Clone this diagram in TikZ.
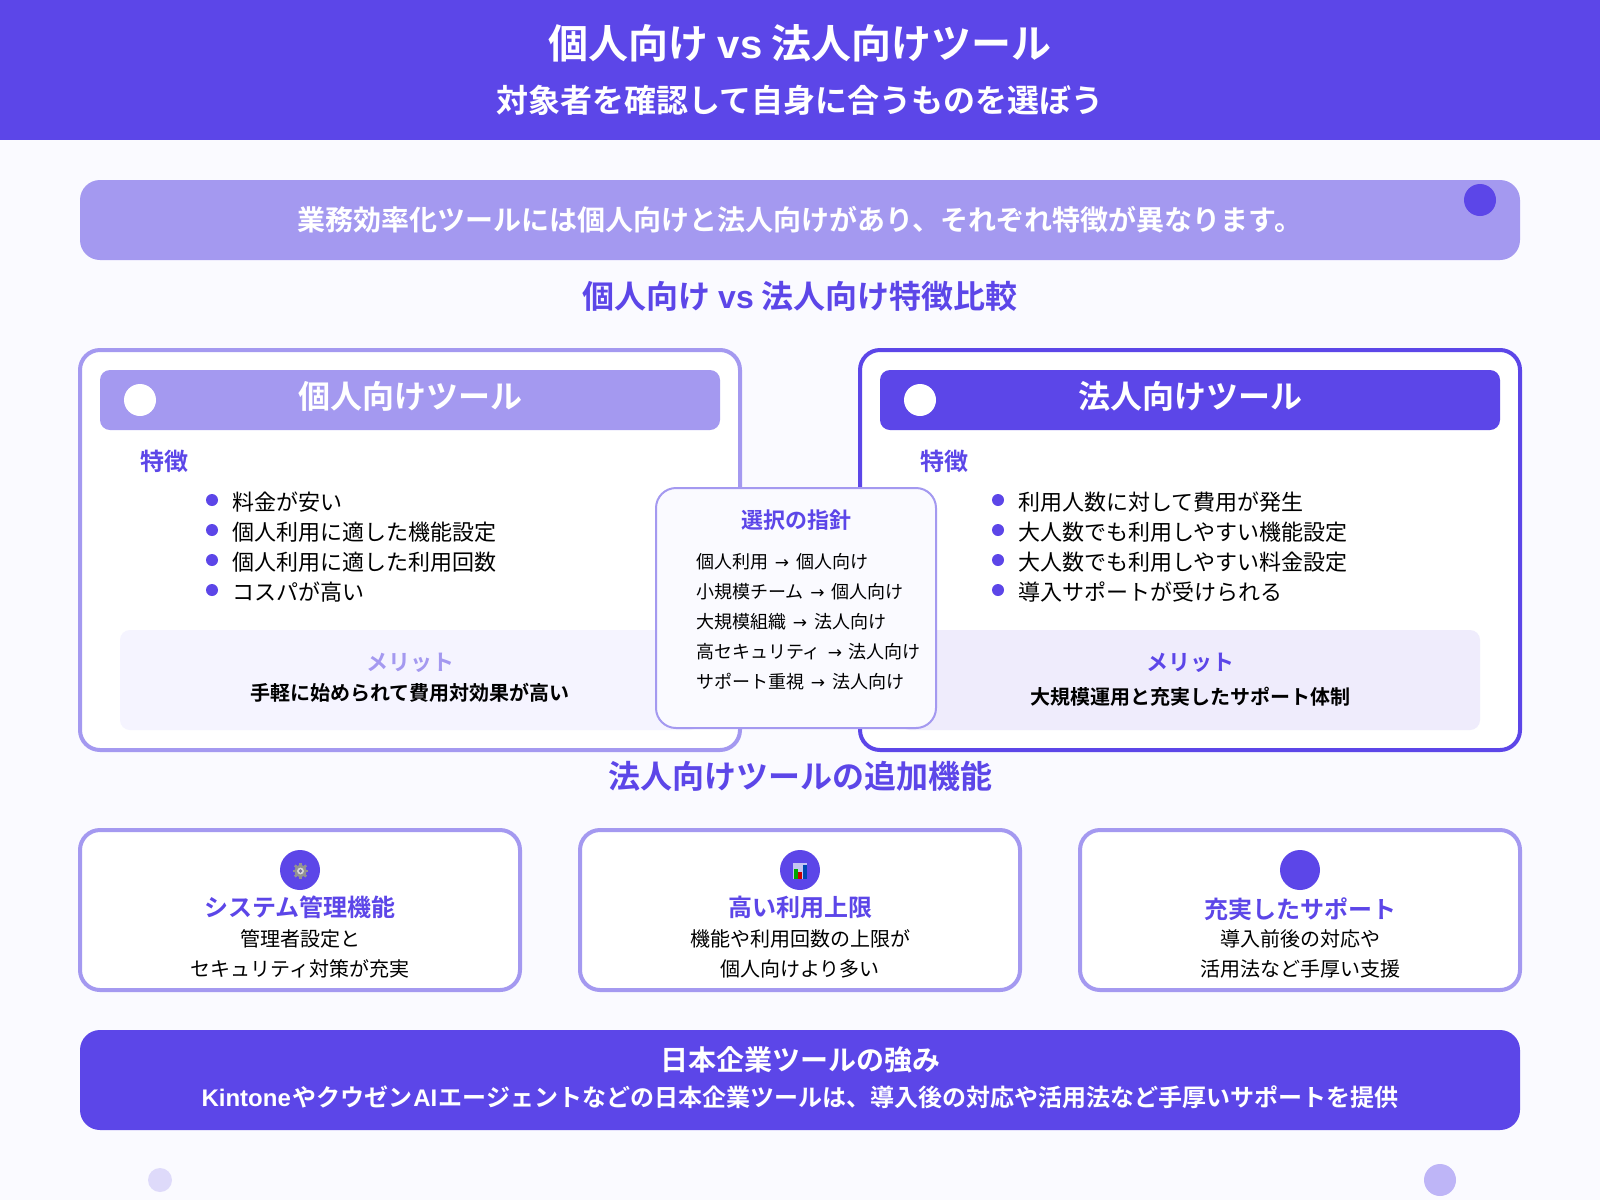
\documentclass[tikz,border=0pt]{standalone}
\usepackage{fontspec}
\setmainfont{Noto Sans CJK JP}[BoldFont={Noto Sans CJK JP Bold}]
\newfontfamily\lat{Liberation Sans}
\newfontfamily\sym{DejaVu Sans}
\definecolor{prim}{HTML}{5C46E8}
\definecolor{lite}{HTML}{A499F0}
\definecolor{pagebg}{HTML}{FAFAFF}
\definecolor{meritL}{HTML}{F5F4FF}
\definecolor{meritR}{HTML}{EFECFC}
\definecolor{decoA}{HTML}{DEDAFA}
\definecolor{decoB}{HTML}{BEB5F7}
\newcommand{\tx}[2]{\fontsize{#1}{#1}\selectfont\rule{0pt}{.88em}\rule[-.12em]{0pt}{.12em}#2}
\newcommand{\arr}{{\lat\ \makebox[18pt][c]{\fontsize{17}{17}\selectfont\sym →}\ }}
\newcommand{\vsw}{{\lat\hspace{.24em}vs\hspace{.24em}}}
\tikzset{
  txt/.style={inner sep=0pt,outer sep=0pt,text=black},
  ttl/.style={txt,font=\bfseries,text=prim},
  wht/.style={txt,font=\bfseries,text=white},
  blk/.style={txt,font=\bfseries,text=black},
  box/.style={rectangle,inner sep=0pt,outer sep=0pt},
  card/.style={box,draw=lite,line width=4pt,fill=white,rounded corners=20pt},
  dot/.style={circle,inner sep=0pt,outer sep=0pt,fill=prim,minimum size=12pt},
  disc/.style={circle,inner sep=0pt,outer sep=0pt,fill=white,minimum size=32pt},
  ico/.style={circle,inner sep=0pt,outer sep=0pt,fill=prim,minimum size=40pt},
}
\begin{document}
\begin{tikzpicture}[x=1pt,y=-1pt]
\useasboundingbox (0,0) rectangle (1600,1200);
\fill[pagebg] (0,0) rectangle (1600,1200);
% header
\node[box,fill=prim,minimum width=1600pt,minimum height=140pt] (header) at (800,70) {};
\node[wht] (title) at (800,43) {\tx{40}{個人向け\vsw 法人向けツール}};
\node[wht] (subtitle) at (800,100) {\tx{32}{対象者を確認して自身に合うものを選ぼう}};
% intro
\node[box,fill=lite,rounded corners=20pt,minimum width=1440pt,minimum height=80pt] (intro) at (800,220) {};
\node[wht] (introtext) at (800,220) {\tx{28}{業務効率化ツールには個人向けと法人向けがあり、それぞれ特徴が異なります。}};
\node[ico,minimum size=32pt] (introdot) at (1480,200) {};
\node[ttl] (cmp) at (800,296) {\tx{32}{個人向け\vsw 法人向け特徴比較}};
% left card
\node[card,minimum width=660pt,minimum height=400pt] (lcard) at (410,550) {};
\node[box,fill=lite,rounded corners=10pt,minimum width=620pt,minimum height=60pt] (lhead) at (410,400) {};
\node[disc] (ldisc) at (140,400) {};
\node[wht] (lhtext) at (410,396) {\tx{32}{個人向けツール}};
\node[ttl,anchor=west] (lfeat) at (140,461) {\tx{24}{特徴}};
\node[dot] (lb1) at (212,500) {};
\node[dot] (lb2) at (212,530) {};
\node[dot] (lb3) at (212,560) {};
\node[dot] (lb4) at (212,590) {};
\node[txt,anchor=west] (lt1) at (232,502) {\tx{22}{料金が安い}};
\node[txt,anchor=west] (lt2) at (232,532) {\tx{22}{個人利用に適した機能設定}};
\node[txt,anchor=west] (lt3) at (232,562) {\tx{22}{個人利用に適した利用回数}};
\node[txt,anchor=west] (lt4) at (232,592) {\tx{22}{コスパが高い}};
\node[box,fill=meritL,rounded corners=10pt,minimum width=580pt,minimum height=100pt] (lmerit) at (410,680) {};
\node[ttl,text=lite] (lmt) at (410,662) {\tx{22}{メリット}};
\node[blk] (lmd) at (410,693) {\tx{20}{手軽に始められて費用対効果が高い}};
% right card
\node[card,draw=prim,minimum width=660pt,minimum height=400pt] (rcard) at (1190,550) {};
\node[box,fill=prim,rounded corners=10pt,minimum width=620pt,minimum height=60pt] (rhead) at (1190,400) {};
\node[disc] (rdisc) at (920,400) {};
\node[wht] (rhtext) at (1190,396) {\tx{32}{法人向けツール}};
\node[ttl,anchor=west] (rfeat) at (920,461) {\tx{24}{特徴}};
\node[dot] (rb1) at (998,500) {};
\node[dot] (rb2) at (998,530) {};
\node[dot] (rb3) at (998,560) {};
\node[dot] (rb4) at (998,590) {};
\node[txt,anchor=west] (rt1) at (1018,502) {\tx{22}{利用人数に対して費用が発生}};
\node[txt,anchor=west] (rt2) at (1018,532) {\tx{22}{大人数でも利用しやすい機能設定}};
\node[txt,anchor=west] (rt3) at (1018,562) {\tx{22}{大人数でも利用しやすい料金設定}};
\node[txt,anchor=west] (rt4) at (1018,592) {\tx{22}{導入サポートが受けられる}};
\node[box,fill=meritR,rounded corners=10pt,minimum width=580pt,minimum height=100pt] (rmerit) at (1190,680) {};
\node[ttl] (rmt) at (1190,662) {\tx{22}{メリット}};
\node[blk] (rmd) at (1190,697) {\tx{20}{大規模運用と充実したサポート体制}};
% centre guide
\node[box,draw=lite,line width=2pt,fill=pagebg,rounded corners=20pt,minimum width=280pt,minimum height=240pt] (guide) at (796,608) {};
\node[ttl] (gt) at (796,520) {\tx{22}{選択の指針}};
\node[txt,anchor=west] (g1) at (696,562) {\tx{18}{個人利用\arr 個人向け}};
\node[txt,anchor=west] (g2) at (696,592) {\tx{18}{小規模チーム\arr 個人向け}};
\node[txt,anchor=west] (g3) at (696,622) {\tx{18}{大規模組織\arr 法人向け}};
\node[txt,anchor=west] (g4) at (696,652) {\tx{18}{高セキュリティ\arr 法人向け}};
\node[txt,anchor=west] (g5) at (696,682) {\tx{18}{サポート重視\arr 法人向け}};
\node[ttl] (add) at (800,776) {\tx{32}{法人向けツールの追加機能}};
% feature cards
\node[card,minimum width=440pt,minimum height=160pt] (f1) at (300,910) {};
\node[card,minimum width=440pt,minimum height=160pt] (f2) at (800,910) {};
\node[card,minimum width=440pt,minimum height=160pt] (f3) at (1300,910) {};
\node[ico] (i1) at (300,870) {};
\node[ico] (i2) at (800,870) {};
\node[ico] (i3) at (1300,870) {};
% gear icon
\foreach \a in {0,45,...,315}
  \fill[gray!85!white,rotate around={\a:(300.5,871)}] (299.3,863.2) rectangle (301.7,878.8);
\fill[gray!85!white] (300.5,871) circle[radius=6pt];
\fill[gray!30!white] (300.5,871) circle[radius=3.4pt];
\fill[gray!70!prim] (300.5,871) circle[radius=1.8pt];
% chart icon
\fill[white!80!blue!90!gray] (793,863) rectangle (806.5,879);
\fill[green!65!black] (794,869) rectangle (797.5,879);
\fill[red!80!black] (798,872) rectangle (802,879);
\fill[blue!60!cyan!70!black] (803,865) rectangle (806.5,879);
\node[ttl] (f1t) at (300,907) {\tx{24}{システム管理機能}};
\node[txt] (f1a) at (300,939) {\tx{20}{管理者設定と}};
\node[txt] (f1b) at (300,969) {\tx{20}{セキュリティ対策が充実}};
\node[ttl] (f2t) at (800,907) {\tx{24}{高い利用上限}};
\node[txt] (f2a) at (800,939) {\tx{20}{機能や利用回数の上限が}};
\node[txt] (f2b) at (800,969) {\tx{20}{個人向けより多い}};
\node[ttl] (f3t) at (1300,909) {\tx{24}{充実したサポート}};
\node[txt] (f3a) at (1300,939) {\tx{20}{導入前後の対応や}};
\node[txt] (f3b) at (1300,969) {\tx{20}{活用法など手厚い支援}};
% bottom band
\node[box,fill=prim,rounded corners=20pt,minimum width=1440pt,minimum height=100pt] (band) at (800,1080) {};
\node[wht] (bt) at (800,1060) {\tx{28}{日本企業ツールの強み}};
\node[wht] (bs) at (800,1097) {\tx{24}{{\lat Kintone\kern1.5pt}やクウゼン{\lat\kern1pt AI\kern1.5pt}エージェントなどの日本企業ツールは、導入後の対応や活用法など手厚いサポートを提供}};
% deco
\node[circle,inner sep=0pt,fill=decoA,minimum size=24pt] (da) at (160,1180) {};
\node[circle,inner sep=0pt,fill=decoB,minimum size=32pt] (db) at (1440,1180) {};
\end{tikzpicture}
\end{document}
